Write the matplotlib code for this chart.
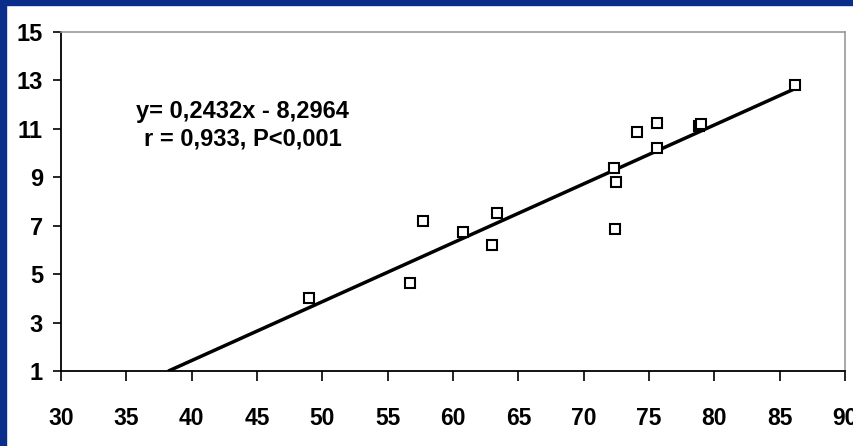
import numpy as np
import matplotlib
matplotlib.use("Agg")
import matplotlib.pyplot as plt

# values
x_vals = [49.0, 56.7, 57.7, 60.8, 63.0, 63.4, 72.3, 72.5, 72.4, 74.1, 75.6, 75.6, 78.8, 79.0, 86.2]
y_vals = [4.02, 4.64, 7.2, 6.74, 6.2, 7.53, 9.39, 8.81, 6.87, 10.88, 11.25, 10.2, 11.1, 11.2, 12.82]
slope = 0.2432
intercept = -8.2964
line_x = [38.2, 86.2]
x_ticks = list(range(30, 91, 5))
y_ticks = list(range(1, 16, 2))
eq_text = "y= 0,2432x - 8,2964"
r_text = "r = 0,933, P<0,001"

fig = plt.figure(figsize=(8.54, 4.46), dpi=100)
fig.patch.set_facecolor("white")

# dark blue slide border on top and left
fig.patches.append(plt.Rectangle((0, 0), 6/854, 1, transform=fig.transFigure,
                                 color="#0a2e8a", zorder=0))
fig.patches.append(plt.Rectangle((0, 1 - 5/446), 1, 5/446, transform=fig.transFigure,
                                 color="#0a2e8a", zorder=0))

ax = fig.add_axes([61/854, 75/446, 784/854, 339/446])
ax.set_xlim(30, 90)
ax.set_ylim(1, 15)

lx = np.array(line_x)
ax.plot(lx, slope*lx + intercept, color="black", lw=2.5, solid_capstyle="butt", zorder=2)
ax.plot(x_vals, y_vals, linestyle="none", marker="s", markersize=7.5,
        markerfacecolor="white", markeredgecolor="black", markeredgewidth=1.5, zorder=3)

ax.text(43.9, 11.7, eq_text, ha="center", va="center", fontsize=17,
        fontweight="bold", family=["Liberation Sans", "DejaVu Sans"])
ax.text(43.9, 10.6, r_text, ha="center", va="center", fontsize=17,
        fontweight="bold", family=["Liberation Sans", "DejaVu Sans"])

ax.set_xticks(x_ticks)
ax.set_yticks(y_ticks)
ax.tick_params(axis="y", direction="out", length=6, width=1.2, pad=7)
ax.tick_params(axis="x", direction="out", length=7, width=1.2, pad=19)
for lab in ax.get_yticklabels():
    lab.set_fontsize(17)
    lab.set_fontweight("bold")
    lab.set_family(["Liberation Sans", "DejaVu Sans"])
for lab in ax.get_xticklabels():
    lab.set_fontsize(16.5)
    lab.set_fontweight("bold")
    lab.set_family(["Liberation Sans Narrow", "Liberation Sans", "DejaVu Sans"])

ax.spines["left"].set_linewidth(1.3)
ax.spines["bottom"].set_linewidth(1.3)
ax.spines["top"].set_color("#999999")
ax.spines["right"].set_color("#999999")
ax.spines["top"].set_linewidth(1.2)
ax.spines["right"].set_linewidth(1.2)

fig.savefig("out.png", dpi=100)
